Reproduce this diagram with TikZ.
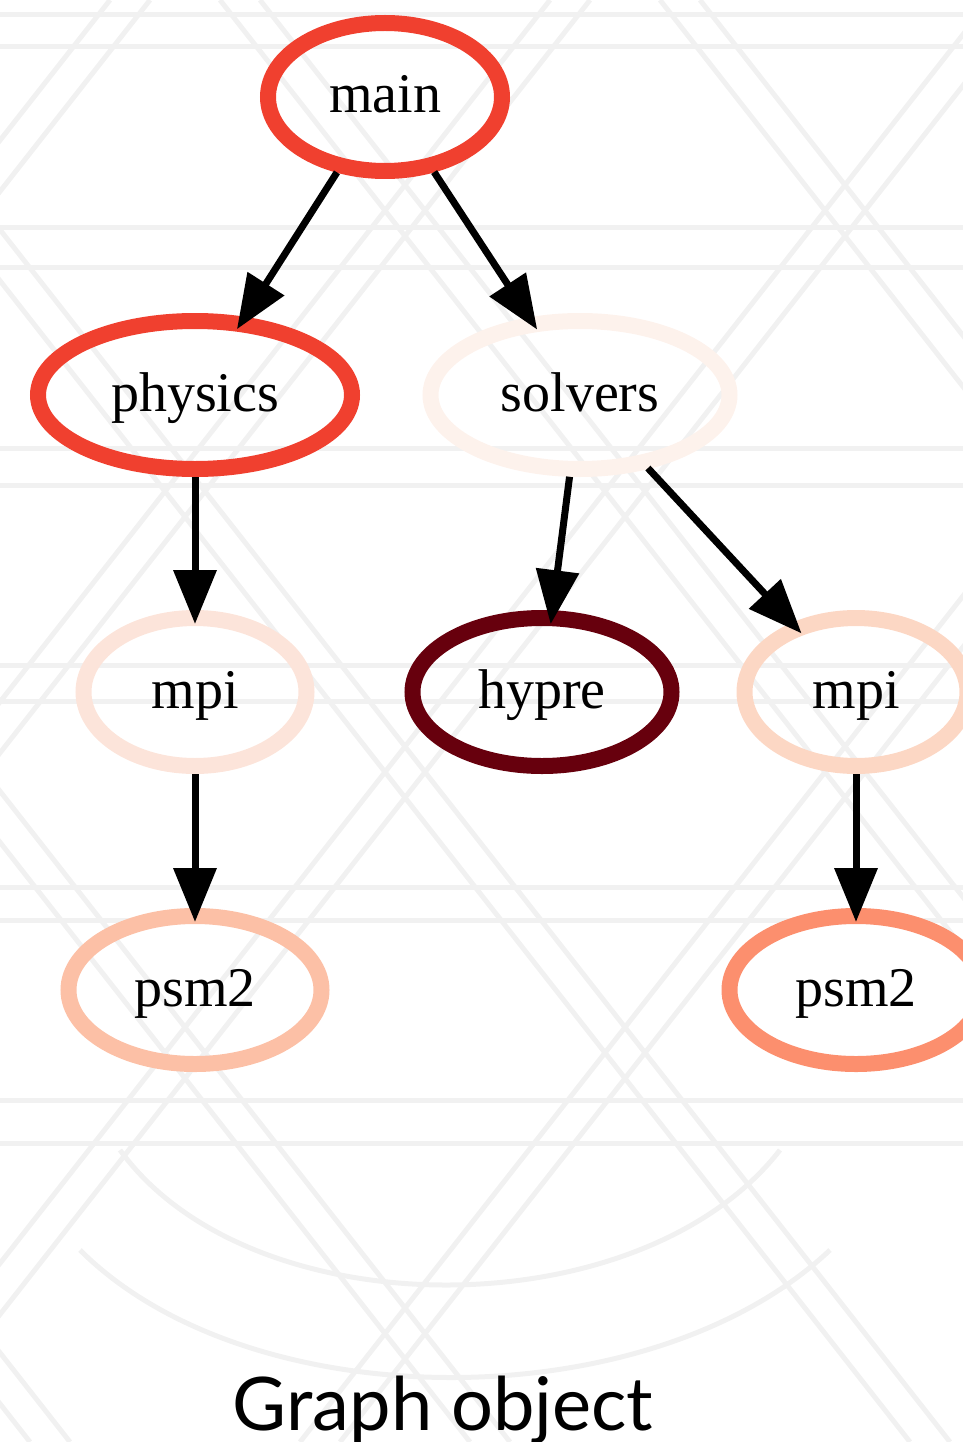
\documentclass[tikz,border=0pt]{standalone}
\usepackage{fontspec}
\setmainfont{Liberation Serif}
\newfontfamily\titlefont{Lato}
\usetikzlibrary{shapes.geometric,arrows.meta}
\definecolor{bgline}{HTML}{F1F1F1}
\definecolor{cmain}{HTML}{F0402F}
\definecolor{csolv}{HTML}{FDF2EC}
\definecolor{cmpil}{HTML}{FCE4DA}
\definecolor{cmpir}{HTML}{FCD7C4}
\definecolor{cpsml}{HTML}{FCC0A6}
\definecolor{cpsmr}{HTML}{FC8F6E}
\definecolor{chypre}{HTML}{67000D}
\tikzset{
  gnode/.style={ellipse, draw, line width=16pt, inner sep=0pt, outer sep=0pt,
    font=\fontsize{56}{60}\selectfont, text height=44pt, text depth=12pt, minimum height=148pt},
  gedge/.style={line width=7pt, -{Triangle[length=54pt,width=42pt]}, shorten <=8pt, shorten >=-6pt},
  bg/.style={bgline, line width=5pt}
}
\begin{document}
\begin{tikzpicture}[x=1pt,y=-1pt]
\useasboundingbox (0,0) rectangle (963,1442);
\begin{scope}
\clip (0,0) rectangle (963,1442);
% horizontal double bands
\foreach \ya/\yb in {15/47,227/267,448/485,665/701,887/920,1100/1143}{
  \draw[bg] (0,\ya) -- (963,\ya);
  \draw[bg] (0,\yb) -- (963,\yb);
}
% diagonal lattice
\foreach \x in {-1100,-660,-220,220,660,1100}{
  \draw[bg] (\x,0) -- ++(1130,1442);
  \draw[bg] (\x+40,0) -- ++(1130,1442);
  \draw[bg] (\x+330,0) -- ++(-1130,1442);
  \draw[bg] (\x+370,0) -- ++(-1130,1442);
}
% arcs at the bottom
\draw[bg] (120,1150) .. controls (250,1330) and (640,1330) .. (780,1150);
\draw[bg] (80,1250) .. controls (250,1420) and (650,1420) .. (830,1250);
\end{scope}

\node[gnode, draw=cmain, minimum width=234pt] (main) at (385,97) {main};
\node[gnode, draw=cmain, minimum width=314pt] (physics) at (195,395) {physics};
\node[gnode, draw=csolv, minimum width=299pt] (solvers) at (580,395) {solvers};
\node[gnode, draw=cmpil, minimum width=223pt] (mpil) at (195,692) {mpi};
\node[gnode, draw=chypre, minimum width=259pt] (hypre) at (542,692) {hypre};
\node[gnode, draw=cmpir, minimum width=223pt] (mpir) at (856,692) {mpi};
\node[gnode, draw=cpsml, minimum width=253pt] (psml) at (195,990) {psm2};
\node[gnode, draw=cpsmr, minimum width=253pt] (psmr) at (856,990) {psm2};

\draw[gedge] (main) -- (physics);
\draw[gedge] (main) -- (solvers);
\draw[gedge] (physics) -- (mpil);
\draw[gedge] (solvers) -- (hypre);
\draw[gedge] (solvers) -- (mpir);
\draw[gedge] (mpil) -- (psml);
\draw[gedge] (mpir) -- (psmr);

\node[anchor=base, inner sep=0pt, font=\titlefont\fontsize{74}{80}\selectfont] (title) at (443,1430) {Graph object};
\end{tikzpicture}
\end{document}
